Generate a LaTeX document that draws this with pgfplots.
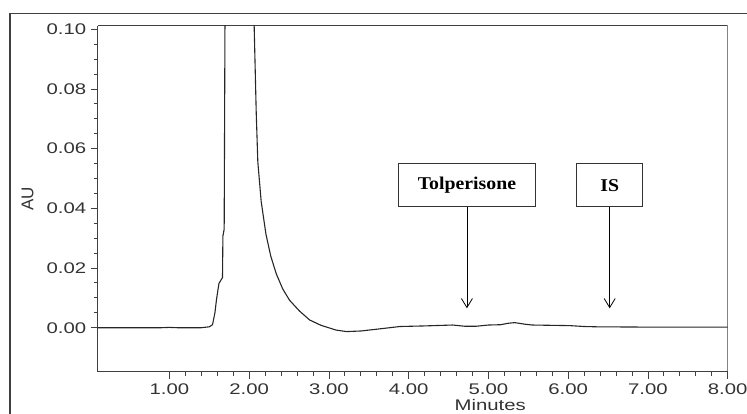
\documentclass[border=0pt]{standalone}
\usepackage{fontspec}
\setmainfont{Liberation Sans}
\newfontfamily\widefont[FakeStretch=1.32]{Liberation Sans}
\newfontfamily\timesfont[FakeStretch=1.1]{Liberation Serif}
\usepackage{pgfplots}
\pgfplotsset{compat=1.18}
\usetikzlibrary{arrows.meta}

% chromatogram trace, minutes vs AU
\pgfplotstableread{
t      au
0.10   0.0000
0.90   0.0000
1.00   0.0001
1.10   0.0000
1.40   0.0000
1.50   0.0003
1.54   0.0010
1.57   0.0050
1.59   0.0095
1.62   0.0148
1.665  0.0168
1.670  0.0307
1.686  0.0330
1.70   0.1300
1.85   0.6000
2.05   0.1200
2.063  0.1000
2.088  0.0720
2.108  0.0555
2.15   0.0423
2.21   0.0313
2.27   0.0240
2.34   0.0180
2.42   0.0130
2.506  0.0092
2.63   0.0056
2.757  0.0026
2.90   0.0008
3.09  -0.0008
3.22  -0.0013
3.40  -0.0011
3.60  -0.0005
3.89   0.0004
4.20   0.0006
4.55   0.0009
4.70   0.0005
4.85   0.0005
5.00   0.0009
5.15   0.0010
5.25   0.0015
5.33   0.0017
5.45   0.0012
5.55   0.0009
6.02   0.0007
6.20   0.0004
6.36   0.0003
7.00   0.0002
8.00   0.0002
}\trace

\begin{document}
\begin{tikzpicture}[x=1pt,y=1pt]
\useasboundingbox (0,0) rectangle (747,414);
% outer frame (cut by the page edge)
\draw[black!75,line width=1.3pt] (10,-10) -- (10,400.7) -- (760,400.7);
\begin{axis}[
  at={(97.7pt,42.3pt)}, anchor=south west,
  scale only axis, width=630pt, height=346pt,
  xmin=0.1, xmax=8, ymin=-0.01474, ymax=0.1012,
  axis line style={black!75,line width=1.1pt},
  axis x line*=bottom, axis y line*=left,
  tick align=outside,
  xtick={1,2,...,8}, minor x tick num=4,
  ytick={0,0.02,...,0.1}, minor y tick num=3,
  major tick length=7pt, minor tick length=4pt,
  every tick/.style={black!75,line width=0.9pt},
  tick label style={font=\widefont\fontsize{15.4}{17}\selectfont, text=black!80},
  /pgf/number format/assume math mode=true,
  /pgf/number format/.cd, fixed, fixed zerofill, precision=2, /pgfplots/.cd,
  scaled y ticks=false,
  xticklabel style={yshift=-2pt},
  yticklabel style={xshift=-1pt},
  xlabel={Minutes}, ylabel={AU},
  xlabel style={font=\widefont\fontsize{15.4}{17}\selectfont, text=black!80,
    at={(axis description cs:0.623,-0.096)}, anchor=center},
  ylabel style={font=\fontsize{17}{19}\selectfont, text=black!80,
    at={(axis description cs:-0.1114,0.5)}, anchor=center},
  clip=true,
]
\draw[black!75,line width=1.1pt] (rel axis cs:0,1) -- (rel axis cs:1,1) -- (rel axis cs:1,0);
\addplot[black!85,line width=1.1pt] table[x=t,y=au] {\trace};
% peak annotations
\node[draw=black!80,line width=0.8pt,minimum width=137pt,minimum height=43pt,
  font=\timesfont\bfseries\fontsize{18}{20}\selectfont] at (axis cs:4.73,0.0477) {Tolperisone};
\node[draw=black!80,line width=0.8pt,minimum width=66pt,minimum height=43pt,
  font=\timesfont\bfseries\fontsize{18}{20}\selectfont] at (axis cs:6.52,0.0477) {IS};
\draw[black,line width=0.8pt,-{Straight Barb[length=9pt,width=11pt]}]
  (axis cs:4.73,0.0406) -- (axis cs:4.73,0.0065);
\draw[black,line width=0.8pt,-{Straight Barb[length=9pt,width=11pt]}]
  (axis cs:6.52,0.0406) -- (axis cs:6.52,0.0065);
\end{axis}
\end{tikzpicture}
\end{document}
